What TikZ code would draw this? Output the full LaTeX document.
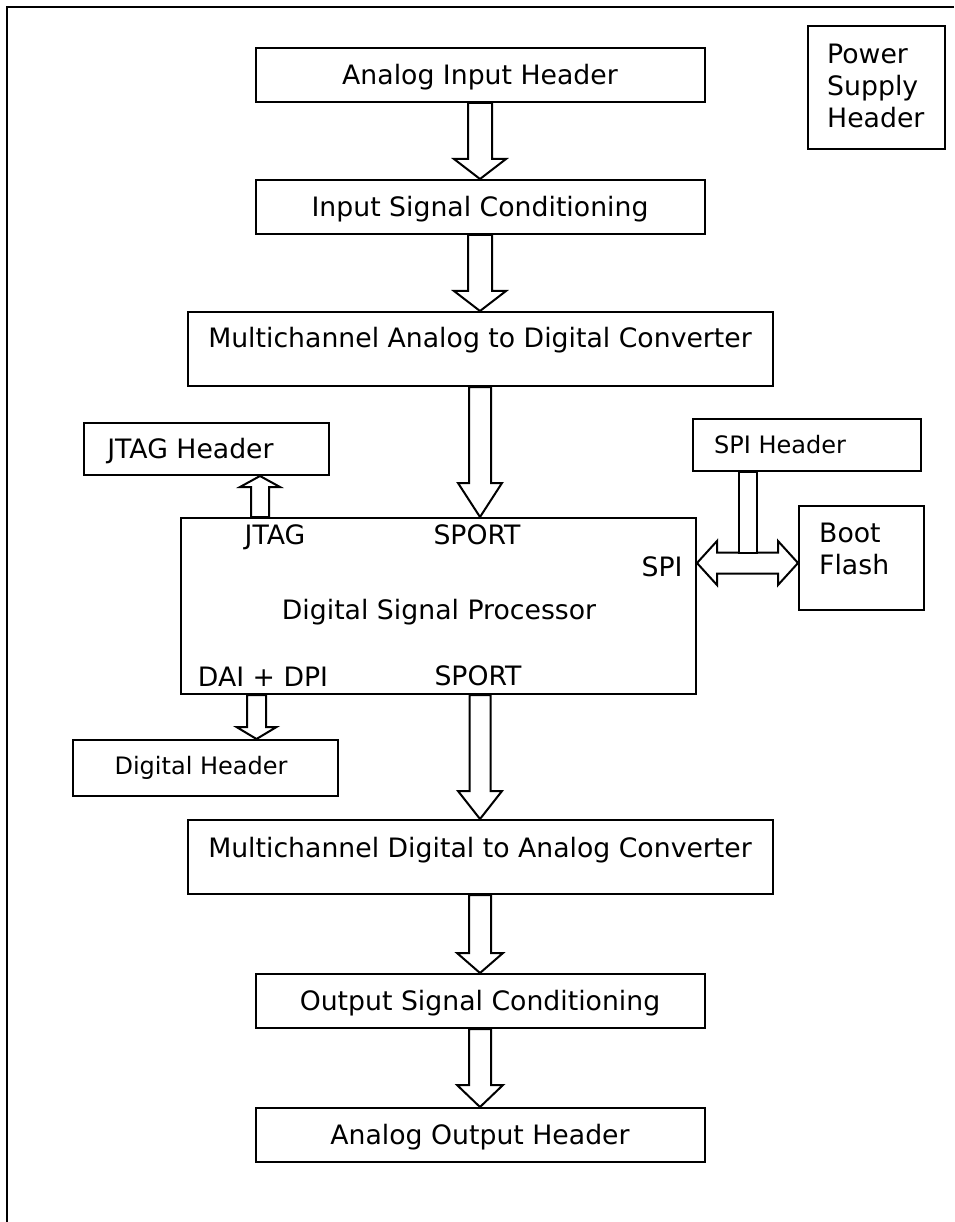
\documentclass[tikz,border=0pt]{standalone}
\usepackage{fontspec}
\setmainfont{DejaVu Sans}
\usetikzlibrary{calc}
\newcommand\bigf{\fontsize{26.7}{31.7}\selectfont}
\newcommand\smallf{\fontsize{24}{29}\selectfont}
\tikzset{
  box/.style={draw, line width=2pt, fill=white, inner sep=0pt, font=\bigf, text height=19.5pt, text depth=0pt},
  txt/.style={inner sep=0pt, font=\bigf, text height=19.5pt, text depth=0pt},
  txts/.style={inner sep=0pt, font=\smallf, text height=17.5pt, text depth=0pt},
  txtm/.style={inner sep=0pt, font=\bigf, align=left},
  blk/.style={draw, line width=2pt, fill=white, line join=miter},
  frame/.style={line width=2.2pt}
}
% down block arrow: #1 start, #2 tip, #3 shaft half width, #4 head half width, #5 head length
\newcommand\blkdown[5]{\draw[blk] ($(#1)+(-#3,0)$) -- ($(#2)+(-#3,-#5)$) -- ($(#2)+(-#4,-#5)$) -- (#2) -- ($(#2)+(#4,-#5)$) -- ($(#2)+(#3,-#5)$) -- ($(#1)+(#3,0)$) -- cycle;}
% up block arrow
\newcommand\blkup[5]{\draw[blk] ($(#1)+(-#3,0)$) -- ($(#2)+(-#3,#5)$) -- ($(#2)+(-#4,#5)$) -- (#2) -- ($(#2)+(#4,#5)$) -- ($(#2)+(#3,#5)$) -- ($(#1)+(#3,0)$) -- cycle;}
\begin{document}
\begin{tikzpicture}[x=1pt,y=-1pt]
\useasboundingbox (0,0) rectangle (954,1222);
\draw[frame] (954,7) -- (7,7) -- (7,1222);

% main column
\node[box, minimum width=449pt, minimum height=54pt] (aih) at (480,75) {Analog Input Header};
\node[box, minimum width=449pt, minimum height=54pt] (isc) at (480,207) {Input Signal Conditioning};
\node[box, minimum width=585pt, minimum height=74pt,
      label={[txt,yshift=11pt]center:Multichannel Analog to Digital Converter}] (adc) at (480,349) {};
\node[box, minimum width=515pt, minimum height=176pt] (dsp) at (438.5,606) {};
\node[box, minimum width=585pt, minimum height=74pt,
      label={[txt,yshift=9pt]center:Multichannel Digital to Analog Converter}] (dac) at (480,857) {};
\node[box, minimum width=449pt, minimum height=54pt] (osc) at (480,1001) {Output Signal Conditioning};
\node[box, minimum width=449pt, minimum height=54pt] (aoh) at (480,1135) {Analog Output Header};

% side boxes
\node[box, minimum width=137pt, minimum height=123pt,
      label={[txtm,anchor=west,xshift=20pt,yshift=1.5pt]west:Power\\Supply\\Header}] (psh) at (876.5,87.5) {};
\node[box, minimum width=245pt, minimum height=52pt,
      label={[txt,xshift=-16pt]center:JTAG Header}] (jtagh) at (206.5,449) {};
\node[box, minimum width=228pt, minimum height=52pt,
      label={[txts,xshift=-27pt]center:SPI Header}] (spih) at (807,445) {};
\node[box, minimum width=125pt, minimum height=104pt,
      label={[txtm,anchor=west,xshift=21pt,yshift=9pt]west:Boot\\Flash}] (boot) at (861.5,558) {};
\node[box, minimum width=265pt, minimum height=56pt,
      label={[txts,xshift=-4.5pt,yshift=2pt]center:Digital Header}] (digh) at (205.5,768) {};

% DSP labels
\node[txt] (ljtag) at (275,535) {JTAG};
\node[txt] (lsport1) at (477,535) {SPORT};
\node[txt] (lspi) at (662,567) {SPI};
\node[txt] (ldsp) at (439,610) {Digital Signal Processor};
\node[txt] (ldai) at (263,677) {DAI + DPI};
\node[txt] (lsport2) at (478,676) {SPORT};

% coordinates for arrows
\coordinate (a3) at (adc.south |- dsp.north);
\coordinate (a4) at (dac.north |- dsp.south);
\coordinate (j1) at ($(dsp.north west)+(80,0)$);
\coordinate (j2) at (j1 |- jtagh.south);
\coordinate (d1) at ($(dsp.south west)+(76.5,0)$);
\coordinate (d2) at (d1 |- digh.north);
\coordinate (s1) at ($(dsp.north east)+(0,46)$);
\coordinate (s2) at (s1 -| boot.west);
\coordinate (t1) at ($(spih.south)+(-59,0)$);
\coordinate (t2) at ($(s1 -| t1)+(0,-10.5)$);

% block arrows
\blkdown{aih.south}{isc.north}{12}{26}{20}
\blkdown{isc.south}{adc.north}{12}{26}{20}
\blkdown{adc.south}{a3}{11}{22}{34}
\blkdown{a4}{dac.north}{10.5}{22}{28}
\blkdown{dac.south}{osc.north}{11}{23}{20}
\blkdown{osc.south}{aoh.north}{11}{23}{22}
\blkup{j1}{j2}{9}{20}{11}
\blkdown{d1}{d2}{9.5}{20}{12}

% SPI double arrow
\draw[blk] (s1) -- ($(s1)+(20,-22)$) -- ($(s1)+(20,-10.5)$) -- ($(s2)+(-20,-10.5)$) -- ($(s2)+(-20,-22)$)
  -- (s2) -- ($(s2)+(-20,22)$) -- ($(s2)+(-20,10.5)$) -- ($(s1)+(20,10.5)$) -- ($(s1)+(20,22)$) -- cycle;
% SPI header stem
\draw[blk] ($(t1)+(-9,0)$) rectangle ($(t2)+(9,0)$);
\end{tikzpicture}
\end{document}
